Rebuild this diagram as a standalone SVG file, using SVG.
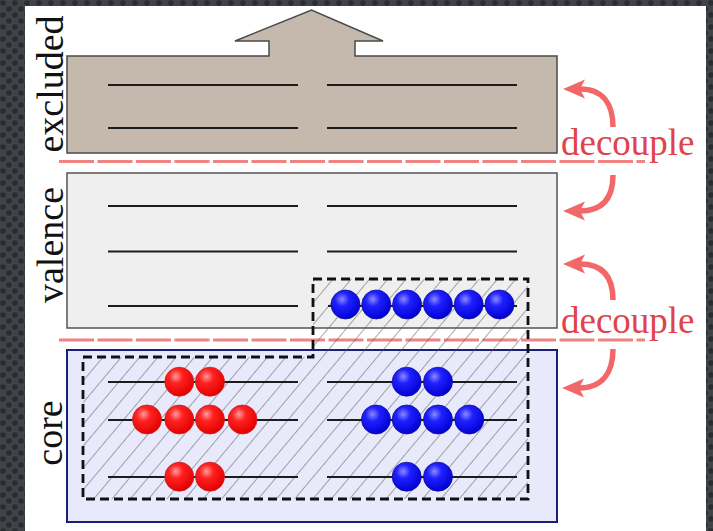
<svg xmlns="http://www.w3.org/2000/svg" width="713" height="531" viewBox="0 0 713 531">
  <style>
    .rod { stroke: #1c1c1c; stroke-width: 2; fill: none; }
    .sep { stroke: #f08282; stroke-width: 3; stroke-dasharray: 35 3.5; fill: none; }
    .label { font-family: "Liberation Serif", "Times New Roman", serif; font-size: 38px; fill: #111; }
    .dec { font-family: "Liberation Serif", "Times New Roman", serif; font-size: 37px; fill: #e0434a; }
    .arr { stroke: #f26868; stroke-width: 5.5; fill: none; marker-end: url(#head); }
    .red { fill: url(#gRed); stroke: #d02020; stroke-width: 0.8; }
    .blue { fill: url(#gBlue); stroke: #1010a0; stroke-width: 0.8; }
  </style>
  <defs>
    <pattern id="dots" width="12" height="12" patternUnits="userSpaceOnUse">
      <rect width="12" height="12" fill="#404348"/>
      <circle cx="3" cy="3" r="2.8" fill="#2a2c30"/>
      <circle cx="9" cy="9" r="2.8" fill="#2a2c30"/>
    </pattern>
    <pattern id="hatch" width="14" height="14" patternUnits="userSpaceOnUse" patternTransform="rotate(40)">
      <line x1="0" y1="0" x2="0" y2="14" stroke="#555" stroke-width="1"/>
    </pattern>
    <radialGradient id="gRed" cx="0.38" cy="0.32" r="0.7">
      <stop offset="0" stop-color="#ff9a9a"/>
      <stop offset="0.35" stop-color="#ff2020"/>
      <stop offset="1" stop-color="#e00000"/>
    </radialGradient>
    <radialGradient id="gBlue" cx="0.38" cy="0.32" r="0.7">
      <stop offset="0" stop-color="#8a8aff"/>
      <stop offset="0.35" stop-color="#2020ff"/>
      <stop offset="1" stop-color="#0000d0"/>
    </radialGradient>
    <marker id="head" markerUnits="userSpaceOnUse" markerWidth="24" markerHeight="22" viewBox="0 -11 24 22" refX="5" refY="0" orient="auto">
      <path d="M0,-9.5 L22,0 L0,9.5 L5,0 Z" fill="#f26868"/>
    </marker>
  </defs>

  <rect x="0" y="0" width="713" height="531" fill="url(#dots)"/>
  <rect x="25" y="6" width="681" height="525" fill="#ffffff"/>

  <g id="node-excluded">
    <path d="M67,56 H269 V41 H235 L311.5,10 L383,41 H355 V56 H557 V153 H67 Z" fill="#c5b9ad" stroke="#4a4a4a" stroke-width="1.5"/>
    <line class="rod" x1="108" y1="85" x2="298" y2="85"/>
    <line class="rod" x1="327" y1="85" x2="517" y2="85"/>
    <line class="rod" x1="108" y1="128" x2="298" y2="128"/>
    <line class="rod" x1="327" y1="128" x2="517" y2="128"/>
  </g>

  <g id="node-valence">
    <rect x="67" y="173" width="490" height="155" fill="#efefef" stroke="#555" stroke-width="1.5"/>
  </g>

  <g id="node-core">
    <rect x="67" y="350" width="490" height="172" fill="#e8e9fa" stroke="#1a1f7a" stroke-width="2"/>
  </g>

  <g id="separators">
    <line class="sep" x1="59" y1="161.5" x2="645" y2="161.5"/>
    <line class="sep" x1="59" y1="340" x2="645" y2="340"/>
  </g>

  <g id="active-space">
    <path d="M313,279 H528 V499 H83 V357 H313 Z" fill="url(#hatch)"/>
    <line class="rod" x1="108" y1="206" x2="298" y2="206"/>
    <line class="rod" x1="327" y1="206" x2="517" y2="206"/>
    <line class="rod" x1="108" y1="251.5" x2="298" y2="251.5"/>
    <line class="rod" x1="327" y1="251.5" x2="517" y2="251.5"/>
    <line class="rod" x1="108" y1="306" x2="298" y2="306"/>
    <line class="rod" x1="328" y1="306" x2="517" y2="306"/>
    <line class="rod" x1="108" y1="382" x2="298" y2="382"/>
    <line class="rod" x1="327" y1="382" x2="517" y2="382"/>
    <line class="rod" x1="108" y1="420" x2="298" y2="420"/>
    <line class="rod" x1="327" y1="420" x2="517" y2="420"/>
    <line class="rod" x1="108" y1="477" x2="298" y2="477"/>
    <line class="rod" x1="327" y1="477" x2="517" y2="477"/>

    <g id="valence-electrons">
      <circle class="blue" cx="345.5" cy="304.5" r="14.5"/>
      <circle class="blue" cx="376.3" cy="304.5" r="14.5"/>
      <circle class="blue" cx="407.1" cy="304.5" r="14.5"/>
      <circle class="blue" cx="437.9" cy="304.5" r="14.5"/>
      <circle class="blue" cx="468.7" cy="304.5" r="14.5"/>
      <circle class="blue" cx="499.5" cy="304.5" r="14.5"/>
    </g>
    <g id="core-electrons">
      <circle class="red" cx="179.3" cy="381.7" r="14.5"/>
      <circle class="red" cx="210" cy="381.7" r="14.5"/>
      <circle class="red" cx="147" cy="419.5" r="14.5"/>
      <circle class="red" cx="179.3" cy="419.5" r="14.5"/>
      <circle class="red" cx="210" cy="419.5" r="14.5"/>
      <circle class="red" cx="242.5" cy="419.5" r="14.5"/>
      <circle class="red" cx="179.3" cy="476.7" r="14.5"/>
      <circle class="red" cx="210" cy="476.7" r="14.5"/>
      <circle class="blue" cx="406.7" cy="381.7" r="14.5"/>
      <circle class="blue" cx="438" cy="381.7" r="14.5"/>
      <circle class="blue" cx="376" cy="419.5" r="14.5"/>
      <circle class="blue" cx="406.7" cy="419.5" r="14.5"/>
      <circle class="blue" cx="438" cy="419.5" r="14.5"/>
      <circle class="blue" cx="469.3" cy="419.5" r="14.5"/>
      <circle class="blue" cx="406.7" cy="476.7" r="14.5"/>
      <circle class="blue" cx="438" cy="476.7" r="14.5"/>
    </g>
    <path d="M313,279 H528 V499 H83 V357 H313 Z" fill="none" stroke="#111" stroke-width="2.8" stroke-dasharray="9 5"/>
  </g>

  <g id="labels">
    <text class="label" transform="translate(63,84) rotate(-90)" text-anchor="middle">excluded</text>
    <text class="label" transform="translate(63,245) rotate(-90)" text-anchor="middle">valence</text>
    <text class="label" transform="translate(62,433) rotate(-90)" text-anchor="middle">core</text>
    <text class="dec" x="561" y="155">decouple</text>
    <text class="dec" x="561" y="333">decouple</text>
  </g>

  <g id="connectors">
    <path class="arr" d="M613,127 C613,104 603,89 580,89"/>
    <path class="arr" d="M613,175 C613,198 603,211 580,211"/>
    <path class="arr" d="M613,300 C613,277 603,264 580,264"/>
    <path class="arr" d="M613,349 C613,372 603,388 579,388"/>
  </g>
</svg>
